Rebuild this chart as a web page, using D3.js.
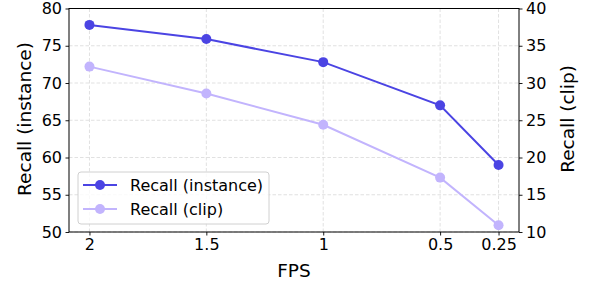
<!DOCTYPE html>
<html>
<head>
<meta charset="utf-8">
<script src="https://cdn.jsdelivr.net/npm/d3@7"></script>
<style>
  body { margin: 0; background: #fff; }
  svg { display: block; font-family: "DejaVu Sans", sans-serif; }
</style>
</head>
<body>
<svg id="chart" width="590" height="283"></svg>
<script>
// data
const fps = [2, 1.5, 1, 0.5, 0.25];
const fpsLabels = ["2", "1.5", "1", "0.5", "0.25"];
const recallInstance = [77.8, 75.9, 72.8, 67.0, 59.0];
const recallClip = [32.2, 28.6, 24.4, 17.3, 10.9];
const leftTicks = [50, 55, 60, 65, 70, 75, 80];
const rightTicks = [10, 15, 20, 25, 30, 35, 40];

const colInstance = "#4b44e3";
const colClip = "#c2b4fd";

const svg = d3.select("#chart");
const W = 590, H = 283;
const m = {left: 69, right: 71, top: 8.5, bottom: 51};
const x0 = m.left, x1 = W - m.right, y0 = H - m.bottom, y1 = m.top;

// x is FPS, reversed, with matplotlib-like 5% margins
const x = d3.scaleLinear().domain([2.0875, 0.1625]).range([x0, x1]);
const yL = d3.scaleLinear().domain([50, 80]).range([y0, y1]);
const yR = d3.scaleLinear().domain([10, 40]).range([y0, y1]);

// grid
const grid = svg.append("g").attr("stroke", "#d9d9d9").attr("stroke-width", 0.8)
  .attr("stroke-dasharray", "3.5,2");
grid.selectAll(".gx").data(fps).enter().append("line")
  .attr("x1", d => x(d)).attr("x2", d => x(d)).attr("y1", y0).attr("y2", y1);
grid.selectAll(".gy").data(leftTicks).enter().append("line")
  .attr("x1", x0).attr("x2", x1).attr("y1", d => yL(d)).attr("y2", d => yL(d));

// axes
const fontSize = "16px";
const axB = svg.append("g").attr("transform", `translate(0,${y0})`)
  .call(d3.axisBottom(x).tickValues(fps).tickFormat((d, i) => fpsLabels[i]).tickSize(3.5).tickPadding(3.5));
const axL = svg.append("g").attr("transform", `translate(${x0},0)`)
  .call(d3.axisLeft(yL).tickValues(leftTicks).tickSize(3.5).tickPadding(3.5));
const axR = svg.append("g").attr("transform", `translate(${x1},0)`)
  .call(d3.axisRight(yR).tickValues(rightTicks).tickSize(3.5).tickPadding(3.5));
[axB, axL, axR].forEach(a => {
  a.select(".domain").remove();
  a.attr("font-family", null).attr("font-size", null);
  a.selectAll("text").attr("font-size", fontSize).attr("fill", "#000");
  a.selectAll("line").attr("stroke", "#000").attr("stroke-width", 0.9);
});

// frame
svg.append("rect").attr("x", x0).attr("y", y1).attr("width", x1 - x0).attr("height", y0 - y1)
  .attr("fill", "none").attr("stroke", "#000").attr("stroke-width", 1);

// series
function drawSeries(vals, scale, color) {
  const pts = fps.map((f, i) => [x(f), scale(vals[i])]);
  svg.append("path").attr("d", d3.line()(pts)).attr("fill", "none")
    .attr("stroke", color).attr("stroke-width", 2);
  svg.append("g").selectAll("circle").data(pts).enter().append("circle")
    .attr("cx", d => d[0]).attr("cy", d => d[1]).attr("r", 5).attr("fill", color);
}
drawSeries(recallClip, yR, colClip);
drawSeries(recallInstance, yL, colInstance);

// axis labels
svg.append("text").attr("x", (x0 + x1) / 2).attr("y", 277).attr("text-anchor", "middle")
  .attr("font-size", "18.5px").text("FPS");
svg.append("text").attr("transform", "translate(31,119) rotate(-90)").attr("text-anchor", "middle")
  .attr("font-size", "18.5px").text("Recall (instance)");
svg.append("text").attr("transform", "translate(574,119) rotate(-90)").attr("text-anchor", "middle")
  .attr("font-size", "18.5px").text("Recall (clip)");

// legend
const leg = svg.append("g");
leg.append("rect").attr("x", 78).attr("y", 172).attr("width", 191).attr("height", 52).attr("rx", 3)
  .attr("fill", "#fff").attr("fill-opacity", 0.8).attr("stroke", "#d0d0d0");
const items = [["Recall (instance)", colInstance], ["Recall (clip)", colClip]];
items.forEach(([name, c], i) => {
  const cy = 185 + i * 24;
  leg.append("line").attr("x1", 83).attr("x2", 117).attr("y1", cy).attr("y2", cy)
    .attr("stroke", c).attr("stroke-width", 2);
  leg.append("circle").attr("cx", 100).attr("cy", cy).attr("r", 5).attr("fill", c);
  leg.append("text").attr("x", 130).attr("y", cy).attr("dy", "0.35em")
    .attr("font-size", fontSize).text(name);
});
</script>
</body>
</html>
